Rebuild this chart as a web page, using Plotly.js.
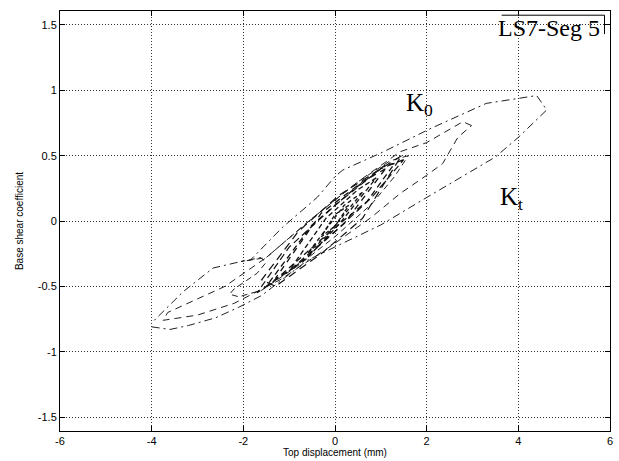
<!DOCTYPE html>
<html><head><meta charset="utf-8">
<script src="https://cdn.plot.ly/plotly-3.0.1.min.js"></script>
<style>html,body{margin:0;padding:0;background:#fff}#chart{width:619px;height:461px}</style>
</head><body><div id="chart"></div>
<script>
// Hysteresis loops (Top displacement mm, Base shear coefficient)
const loopA_x = [-4.0,-3.6,-3.2,-2.6,-2.1,-1.6,-0.6,0.0,1.0,2.0,2.9,3.5,4.0,4.62,4.4,3.3,2.1,1.0,0.17,0.0,-0.39,-1.15,-1.85,-2.05,-2.66,-3.31,-4.0];
const loopA_y = [-0.81,-0.83,-0.80,-0.74,-0.66,-0.57,-0.30,-0.20,-0.03,0.18,0.37,0.49,0.64,0.85,0.96,0.90,0.71,0.52,0.39,0.34,0.18,-0.05,-0.30,-0.31,-0.36,-0.54,-0.78];
const loopB_x = [2.98,2.79,2.0,1.42,0.5,-0.5,-1.5,-2.4,-3.65,-3.75,-3.0,-2.2,-1.2,0.0,0.8,1.42,2.0,2.35,2.68,2.98];
const loopB_y = [0.73,0.76,0.60,0.53,0.30,0.02,-0.28,-0.50,-0.70,-0.76,-0.72,-0.63,-0.45,-0.17,0.03,0.21,0.35,0.44,0.64,0.73];
const loopC_x = [1.6,1.2,0.5,-0.5,-1.5,-2.05,-1.62,-1.51,-1.7,-2.2,-2.3,-2.1,-1.6,-0.8,0.0,0.8,1.3,1.6];
const loopC_y = [0.50,0.46,0.30,0.02,-0.28,-0.31,-0.28,-0.32,-0.40,-0.52,-0.56,-0.58,-0.53,-0.34,-0.12,0.13,0.34,0.50];
const loopD_x = [1.5,1.0,0.0,-1.0,-1.7,-1.0,0.0,0.8,1.5];
const loopD_y = [0.47,0.40,0.12,-0.20,-0.55,-0.38,-0.08,0.18,0.47];
const loopE_x = [1.3,1.1,0.4,-0.5,-1.5,-1.2,0.0,0.7,1.3];
const loopE_y = [0.44,0.43,0.24,-0.03,-0.50,-0.42,-0.05,0.15,0.44];
const loopI_x = [1.45,0.9,0.1,-0.8,-1.6,-1.3,-0.3,0.6,1.45];
const loopI_y = [0.50,0.38,0.20,-0.08,-0.45,-0.50,-0.25,0.02,0.50];
const loopJ_x = [1.1,0.6,-0.3,-1.3,-0.9,0.2,1.1];
const loopJ_y = [0.40,0.30,0.06,-0.44,-0.36,-0.02,0.40];
const loopF_x = [0.9,0.5,-0.2,-1.0,-0.6,0.1,0.9];
const loopF_y = [0.33,0.24,0.02,-0.38,-0.28,-0.02,0.33];
const loopG_x = [0.6,0.2,-0.6,-0.2,0.6];
const loopG_y = [0.22,0.12,-0.25,-0.12,0.22];
const loopH_x = [0.3,0.0,-0.3,0.0,0.3];
const loopH_y = [0.12,0.05,-0.12,-0.04,0.12];

const xTicks = [-6,-4,-2,0,2,4,6];
const yTicks = [-1.5,-1,-0.5,0,0.5,1,1.5];

function tr(x,y,dash,w,c){return {x:x,y:y,type:'scatter',mode:'lines',line:{color:c||'#111',width:w||1,dash:dash},hoverinfo:'skip',showlegend:false};}
const data = [
  tr(loopA_x,loopA_y,'8px,4px,2px,4px',1,'#222'),
  tr(loopB_x,loopB_y,'7px,5px',1,'#222'),
  tr(loopC_x,loopC_y,'6px,4px',1,'#222'),
  tr(loopD_x,loopD_y,'7px,4px',1.2,'#111'),
  tr(loopE_x,loopE_y,'6px,4px',1.3,'#111'),
  tr(loopI_x,loopI_y,'8px,5px',1.2,'#111'),
  tr(loopJ_x,loopJ_y,'6px,5px',1.3,'#111'),
  tr(loopF_x,loopF_y,'5px,3px',1.3,'#111'),
  tr(loopG_x,loopG_y,'4px,3px',1.3,'#111'),
  tr(loopH_x,loopH_y,'4px,2px',1.3,'#111')
];
const axisCommon = {showgrid:true,gridcolor:'#333',griddash:'1px,2px',gridwidth:1,zeroline:false,showline:true,linecolor:'#000',linewidth:1,mirror:'ticks',ticks:'inside',ticklen:5,tickcolor:'#000',tickfont:{family:'Liberation Sans, Arial, sans-serif',size:11,color:'#000'}};
const layout = {
  width:619,height:461,margin:{l:60,r:9,t:11,b:30},paper_bgcolor:'#fff',plot_bgcolor:'#fff',
  xaxis:Object.assign({},axisCommon,{range:[-6,6],tickvals:xTicks,ticktext:xTicks.map(String),
    title:{text:'Top displacement (mm)',font:{family:'Liberation Sans, Arial, sans-serif',size:10,color:'#000'},standoff:2}}),
  yaxis:Object.assign({},axisCommon,{range:[-1.607,1.607],tickvals:yTicks,ticktext:yTicks.map(String),
    title:{text:'Base shear coefficient',font:{family:'Liberation Sans, Arial, sans-serif',size:10,color:'#000'},standoff:12}}),
  annotations:[
    {xref:'paper',yref:'paper',x:0.985,y:0.995,xanchor:'right',yanchor:'top',text:'LS7-Seg 5',showarrow:false,font:{family:'Liberation Serif, Times New Roman, serif',size:24,color:'#000'}},
    {xref:'x',yref:'y',x:1.5,y:0.89,xanchor:'left',yanchor:'middle',text:'K<sub>0</sub>',showarrow:false,font:{family:'Liberation Serif, Times New Roman, serif',size:25,color:'#000'}},
    {xref:'x',yref:'y',x:3.55,y:0.17,xanchor:'left',yanchor:'middle',text:'K<sub>t</sub>',showarrow:false,font:{family:'Liberation Serif, Times New Roman, serif',size:25,color:'#000'}}
  ],
  shapes:[
    {type:'path',xref:'paper',yref:'paper',path:'M 0.803 0.990 L 0.990 0.990 L 0.990 0.945',line:{color:'#000',width:1}}
  ]
};
Plotly.newPlot('chart',data,layout,{staticPlot:true,displayModeBar:false});
</script></body></html>
